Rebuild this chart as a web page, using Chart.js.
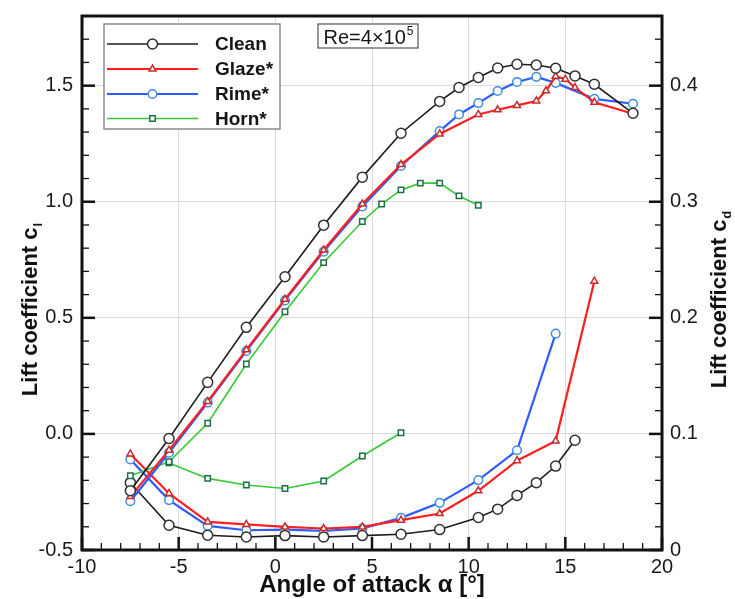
<!DOCTYPE html>
<html>
<head>
<meta charset="utf-8">
<script src="https://cdn.jsdelivr.net/npm/chart.js@4.4.1/dist/chart.umd.min.js"></script>
<style>
html, body { margin: 0; padding: 0; background: #fff; }
#wrap { width: 735px; height: 599px; }
</style>
</head>
<body>
<div id="wrap"><canvas id="c" width="735" height="599"></canvas></div>
<script>
// lift coefficient (left axis)
const alphaCleanCl = [-7.5, -5.5, -3.5, -1.5, 0.5, 2.5, 4.5, 6.5, 8.5, 9.5, 10.5, 11.5, 12.5, 13.5, 14.5, 15.5, 16.5, 18.5];
const cleanCl = [-0.245, -0.02, 0.222, 0.459, 0.677, 0.899, 1.106, 1.295, 1.432, 1.492, 1.535, 1.576, 1.592, 1.589, 1.575, 1.542, 1.506, 1.381];

const alphaGlazeCl = [-7.5, -5.5, -3.5, -1.5, 0.5, 2.5, 4.5, 6.5, 8.5, 10.5, 11.5, 12.5, 13.5, 14.0, 14.5, 15.0, 15.5, 16.5, 18.5];
const glazeCl = [-0.27, -0.07, 0.14, 0.362, 0.58, 0.792, 0.99, 1.16, 1.292, 1.376, 1.396, 1.415, 1.434, 1.478, 1.54, 1.528, 1.492, 1.428, 1.379];

const alphaRimeCl = [-7.5, -5.5, -3.5, -1.5, 0.5, 2.5, 4.5, 6.5, 8.5, 9.5, 10.5, 11.5, 12.5, 13.5, 14.5, 16.5, 18.5];
const rimeCl = [-0.29, -0.081, 0.135, 0.357, 0.575, 0.785, 0.98, 1.154, 1.304, 1.376, 1.425, 1.477, 1.516, 1.538, 1.512, 1.443, 1.422];

const alphaHornCl = [-7.5, -5.5, -3.5, -1.5, 0.5, 2.5, 4.5, 5.5, 6.5, 7.5, 8.5, 9.5, 10.5];
const hornCl = [-0.18, -0.12, 0.046, 0.301, 0.526, 0.738, 0.915, 0.99, 1.051, 1.08, 1.08, 1.025, 0.985];

// drag coefficient (right axis)
const alphaCleanCd = [-7.5, -5.5, -3.5, -1.5, 0.5, 2.5, 4.5, 6.5, 8.5, 10.5, 11.5, 12.5, 13.5, 14.5, 15.5];
const cleanCd = [0.058, 0.0213, 0.0127, 0.0112, 0.0124, 0.0112, 0.0124, 0.0136, 0.0176, 0.028, 0.0352, 0.047, 0.058, 0.0723, 0.0945];

const alphaGlazeCd = [-7.5, -5.5, -3.5, -1.5, 0.5, 2.5, 4.5, 6.5, 8.5, 10.5, 12.5, 14.5, 16.5];
const glazeCd = [0.0827, 0.0487, 0.0242, 0.022, 0.0199, 0.0185, 0.0199, 0.0257, 0.0314, 0.051, 0.0769, 0.094, 0.2316];

const alphaRimeCd = [-7.5, -5.5, -3.5, -1.5, 0.5, 2.5, 4.5, 6.5, 8.5, 10.5, 12.5, 14.5];
const rimeCd = [0.078, 0.043, 0.0208, 0.017, 0.0176, 0.0164, 0.0185, 0.0277, 0.0406, 0.0602, 0.0859, 0.1864];

const alphaHornCd = [-5.5, -3.5, -1.5, 0.5, 2.5, 4.5, 6.5];
const hornCd = [0.075, 0.0617, 0.056, 0.053, 0.0594, 0.081, 0.101];

// ticks
const xTicks = [-10, -5, 0, 5, 10, 15, 20];
const clTicks = [-0.5, 0, 0.5, 1.0, 1.5];
const cdTicks = [0, 0.1, 0.2, 0.3, 0.4];

const seriesNames = ['Clean', 'Glaze*', 'Rime*', 'Horn*'];

const FONT = '"Liberation Sans", Arial, sans-serif';

const styles = [
    { line: '#1c1c1c', mark: '#303030', width: 1.6, shape: 'circle', r: 5 },
    { line: '#ff1f1f', mark: '#c42a2a', width: 2.2, shape: 'triangle', r: 4 },
    { line: '#2f5cff', mark: '#3e8fe0', width: 2.2, shape: 'circle', r: 4.3 },
    { line: '#35c935', mark: '#1d6e48', width: 1.6, shape: 'rect', r: 3.8 }
];

function pts(xs, ys) {
    return xs.map((x, i) => ({ x, y: ys[i] }));
}

function makeSet(idx, xs, ys, axis) {
    const s = styles[idx];
    return {
        label: seriesNames[idx],
        data: pts(xs, ys),
        yAxisID: axis,
        borderColor: s.line,
        borderWidth: s.width,
        pointStyle: s.shape,
        pointRadius: s.r,
        pointBorderColor: s.mark,
        pointBorderWidth: 1.5,
        pointBackgroundColor: '#fff',
        tension: 0,
        fill: false
    };
}

const datasets = [
    makeSet(0, alphaCleanCl, cleanCl, 'y'),
    makeSet(1, alphaGlazeCl, glazeCl, 'y'),
    makeSet(2, alphaRimeCl, rimeCl, 'y'),
    makeSet(3, alphaHornCl, hornCl, 'y'),
    makeSet(0, alphaCleanCd, cleanCd, 'y1'),
    makeSet(1, alphaGlazeCd, glazeCd, 'y1'),
    makeSet(2, alphaRimeCd, rimeCd, 'y1'),
    makeSet(3, alphaHornCd, hornCd, 'y1')
];

function setTicks(values) {
    return scale => { scale.ticks = values.map(v => ({ value: v })); };
}

// fixed axis width, no extra label padding at the ends
function fixWidth(w) {
    return s => {
        s.width = w;
        s.paddingTop = 0;
        s.paddingBottom = 0;
    };
}

// text with a subscript or superscript tail
function drawScript(ctx, main, tail, size, bold, shift, tailScale) {
    const w = bold ? 'bold ' : '';
    ctx.font = w + size + 'px ' + FONT;
    const w1 = ctx.measureText(main).width;
    ctx.font = w + Math.round(size * tailScale) + 'px ' + FONT;
    const w2 = ctx.measureText(tail).width;
    return {
        width: w1 + w2,
        draw(x, y) {
            ctx.font = w + size + 'px ' + FONT;
            ctx.fillText(main, x, y);
            ctx.font = w + Math.round(size * tailScale) + 'px ' + FONT;
            ctx.fillText(tail, x + w1 + 1, y + shift);
        }
    };
}

const decorations = {
    id: 'decorations',
    afterDatasetsDraw(chart) {
        const { ctx, chartArea: a, scales } = chart;
        ctx.save();
        ctx.strokeStyle = '#111';

        // inward tick marks
        const tick = (x1, y1, x2, y2, w) => {
            ctx.lineWidth = w;
            ctx.beginPath();
            ctx.moveTo(x1, y1);
            ctx.lineTo(x2, y2);
            ctx.stroke();
        };
        for (let v = -10; v <= 20; v++) {
            const px = scales.x.getPixelForValue(v);
            const major = v % 5 === 0;
            tick(px, a.bottom, px, a.bottom - (major ? 13 : 7), major ? 2.5 : 1.3);
        }
        for (let i = 0; i <= 23; i++) {
            const v = -0.5 + i * 0.1;
            const py = scales.y.getPixelForValue(v);
            const major = i % 5 === 0;
            tick(a.left, py, a.left + (major ? 13 : 7), py, major ? 2.5 : 1.3);
        }
        for (let i = 0; i <= 23; i++) {
            const v = i * 0.02;
            const py = scales.y1.getPixelForValue(v);
            const major = i % 5 === 0;
            tick(a.right, py, a.right - (major ? 13 : 7), py, major ? 2.5 : 1.3);
        }

        // frame
        ctx.lineWidth = 3;
        ctx.strokeRect(a.left, a.top, a.right - a.left, a.bottom - a.top);

        // legend
        const lx = 104, ly = 24, lw = 176, lh = 105;
        ctx.fillStyle = '#fff';
        ctx.fillRect(lx, ly, lw, lh);
        ctx.strokeStyle = '#8a8a8a';
        ctx.lineWidth = 1.5;
        ctx.strokeRect(lx, ly, lw, lh);
        const rows = [44, 69, 94, 118.5];
        seriesNames.forEach((name, i) => {
            const s = styles[i];
            ctx.strokeStyle = s.line;
            ctx.lineWidth = s.width;
            ctx.beginPath();
            ctx.moveTo(107, rows[i]);
            ctx.lineTo(198, rows[i]);
            ctx.stroke();
            ctx.fillStyle = '#fff';
            ctx.strokeStyle = s.mark;
            ctx.lineWidth = 1.5;
            Chart.helpers.drawPoint(ctx, { pointStyle: s.shape, radius: s.r, borderWidth: 1.5, rotation: 0 }, 152.5, rows[i]);
            ctx.fillStyle = '#151515';
            ctx.font = 'bold 19px ' + FONT;
            ctx.textBaseline = 'middle';
            ctx.textAlign = 'left';
            ctx.fillText(name, 215, rows[i] + 1);
        });

        // Reynolds number box
        ctx.fillStyle = '#fff';
        ctx.fillRect(318, 24, 100, 24);
        ctx.strokeStyle = '#555';
        ctx.lineWidth = 1.2;
        ctx.strokeRect(318, 24, 100, 24);
        ctx.fillStyle = '#151515';
        ctx.textBaseline = 'alphabetic';
        const re = drawScript(ctx, 'Re=4\u00d710', '5', 20, false, -9, 0.6);
        re.draw(368 - re.width / 2, 44);

        // axis titles
        ctx.fillStyle = '#111';
        const xt = drawScript(ctx, 'Angle of attack \u03b1 [\u00b0]', '', 24, true, 0, 1);
        xt.draw(372 - xt.width / 2, 592);

        ctx.save();
        ctx.translate(37, 0);
        ctx.rotate(-Math.PI / 2);
        const lt = drawScript(ctx, 'Lift coefficient c', 'l', 22, true, 5, 0.6);
        lt.draw(-310 - lt.width / 2, 0);
        ctx.restore();

        ctx.save();
        ctx.translate(726, 0);
        ctx.rotate(-Math.PI / 2);
        const rt = drawScript(ctx, 'Lift coefficient c', 'd', 22, true, 5, 0.6);
        rt.draw(-300 - rt.width / 2, 0);
        ctx.restore();

        ctx.restore();
    }
};

new Chart(document.getElementById('c'), {
    type: 'line',
    data: { datasets },
    options: {
        responsive: false,
        animation: false,
        layout: { padding: { top: 16, left: 0, right: 0, bottom: 0 } },
        plugins: {
            legend: { display: false },
            tooltip: { enabled: false }
        },
        scales: {
            x: {
                type: 'linear',
                min: -10,
                max: 20,
                afterBuildTicks: setTicks(xTicks),
                afterFit: s => { s.height = 49; },
                border: { display: false },
                grid: { color: '#dadada', lineWidth: 1, drawTicks: false },
                ticks: {
                    padding: 5,
                    color: '#1a1a1a',
                    font: { family: FONT, size: 20 },
                    maxRotation: 0,
                    callback: v => String(v)
                }
            },
            y: {
                type: 'linear',
                position: 'left',
                min: -0.5,
                max: 1.8,
                afterBuildTicks: setTicks(clTicks),
                afterFit: fixWidth(82),
                border: { display: false },
                grid: { color: '#dadada', lineWidth: 1, drawTicks: false },
                ticks: {
                    padding: 9,
                    color: '#1a1a1a',
                    font: { family: FONT, size: 20 },
                    callback: v => v.toFixed(1)
                }
            },
            y1: {
                type: 'linear',
                position: 'right',
                min: 0,
                max: 0.46,
                afterBuildTicks: setTicks(cdTicks),
                afterFit: fixWidth(73),
                border: { display: false },
                grid: { display: false, drawTicks: false },
                ticks: {
                    padding: 8,
                    color: '#1a1a1a',
                    font: { family: FONT, size: 20 },
                    callback: v => v === 0 ? '0' : v.toFixed(1)
                }
            }
        }
    },
    plugins: [decorations]
});
</script>
</body>
</html>
